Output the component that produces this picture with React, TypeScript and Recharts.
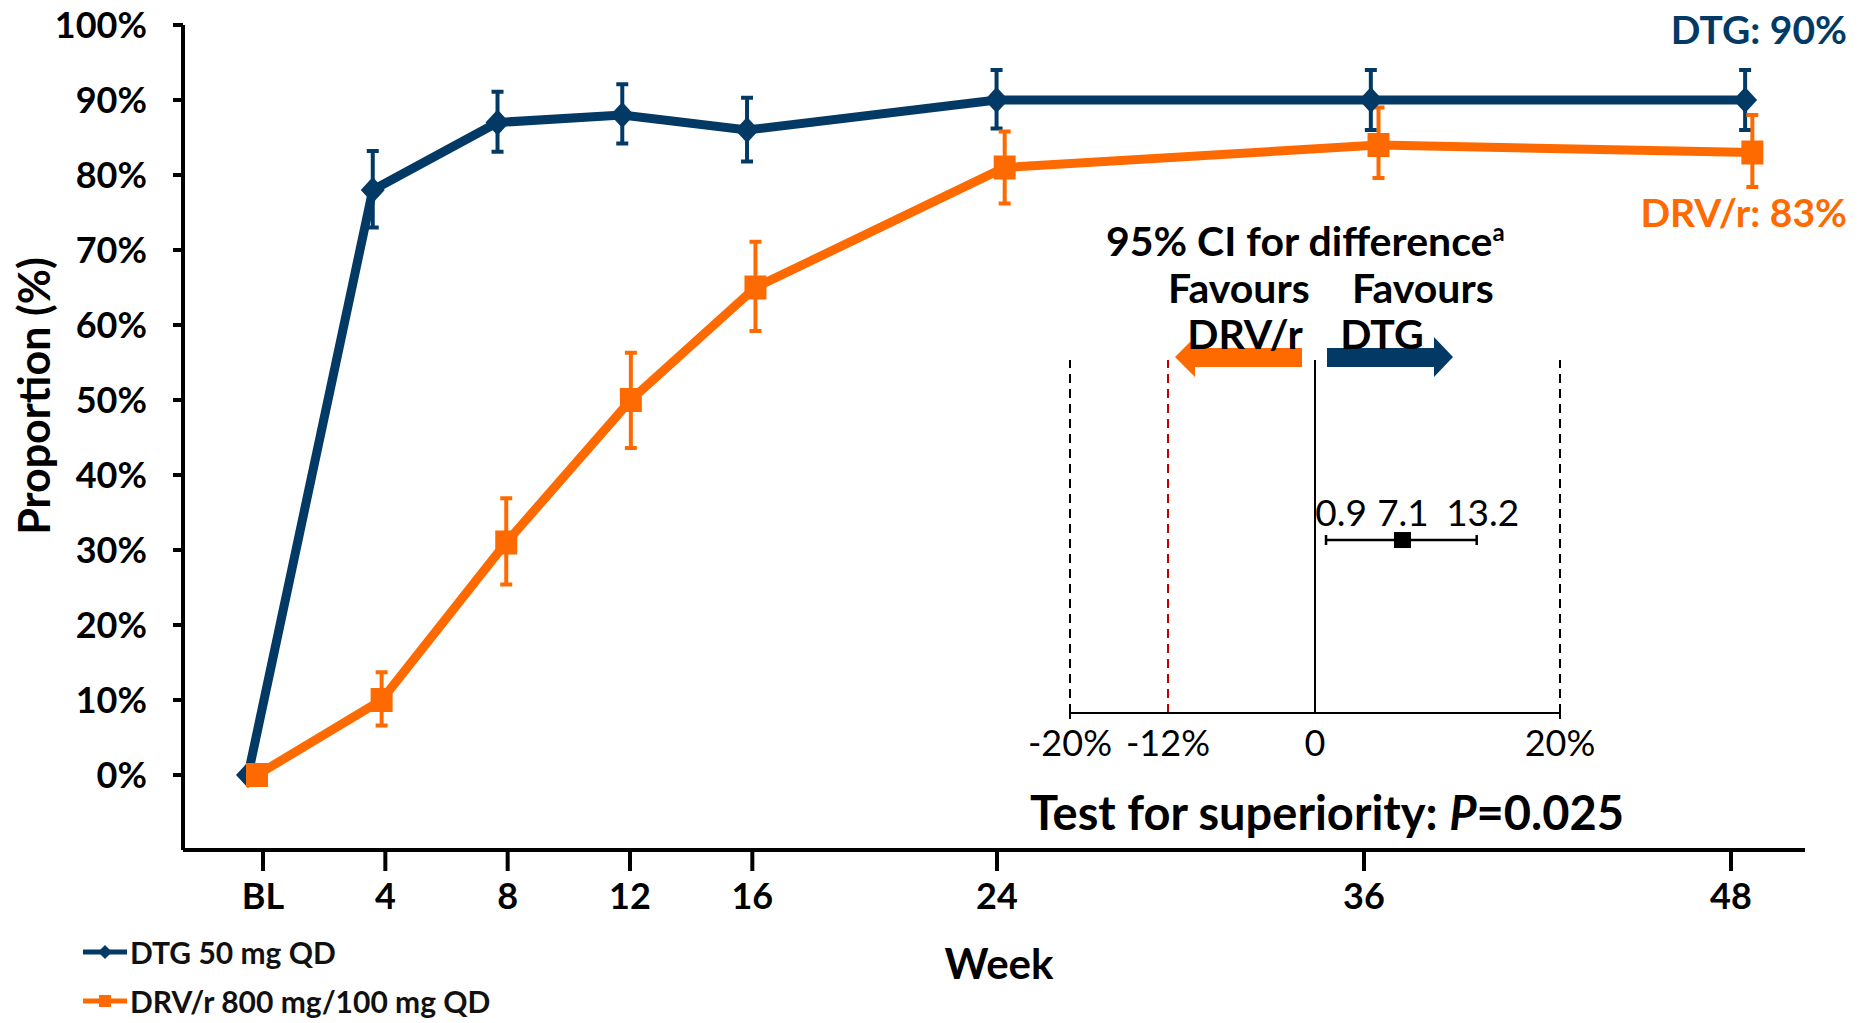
import React from 'react';
import {
  ComposedChart,
  Line,
  Scatter,
  XAxis,
  YAxis,
  ErrorBar,
  ReferenceLine,
  ReferenceDot,
} from 'recharts';

const NAVY = '#033A65';
const ORANGE = '#FF6A00';
const FONT = 'Lato, "Open Sans", sans-serif';

// main chart: proportion by week
const weeks = [0, 4, 8, 12, 16, 24, 36, 48];
const weekLabels = ['BL', '4', '8', '12', '16', '24', '36', '48'];
const yTicks = [0, 10, 20, 30, 40, 50, 60, 70, 80, 90, 100];

const seriesNames = ['DTG 50 mg QD', 'DRV/r 800 mg/100 mg QD'];

const dtgValues = [0, 78, 87, 88, 86, 90, 90, 90];
const dtgLow = [0, 73, 83.1, 84.2, 81.8, 86.2, 86, 86];
const dtgHigh = [0, 83.2, 91.1, 92.1, 90.3, 94, 94, 94];

const drvValues = [0, 10, 31, 50, 65, 81, 84, 83];
const drvLow = [0, 6.6, 25.4, 43.6, 59.2, 76.2, 79.6, 78.4];
const drvHigh = [0, 13.7, 36.9, 56.3, 71.1, 85.8, 89, 88];

// inset: 95% CI for the difference
const diffTicks = [-20, -12, 0, 20];
const diffEstimate = 7.1;
const diffLow = 0.9;
const diffHigh = 13.2;
const marginLine = -12;

const dtgData = weeks.map((w, i) => ({
  week: w,
  value: dtgValues[i],
  err: [dtgValues[i] - dtgLow[i], dtgHigh[i] - dtgValues[i]],
}));
const drvData = weeks.map((w, i) => ({
  week: w,
  value: drvValues[i],
  err: [drvValues[i] - drvLow[i], drvHigh[i] - drvValues[i]],
}));
const ciData = [
  { diff: diffEstimate, row: 0.49, err: [diffEstimate - diffLow, diffHigh - diffEstimate] },
];

const DiamondDot = (props: any) => {
  const { cx, cy, index } = props;
  if (cx == null || cy == null) return null;
  return (
    <path
      key={`d-${index}`}
      d={`M${cx},${cy - 13}L${cx + 12},${cy}L${cx},${cy + 13}L${cx - 12},${cy}Z`}
      fill={NAVY}
    />
  );
};

const SquareDot = (props: any) => {
  const { cx, cy, index } = props;
  if (cx == null || cy == null) return null;
  return <rect key={`s-${index}`} x={cx - 11} y={cy - 12} width={22} height={24} fill={ORANGE} />;
};

const LegendBox = () => (
  <div
    style={{
      position: 'absolute',
      left: 83,
      top: 927,
      fontFamily: FONT,
      fontWeight: 700,
      fontSize: 30,
      color: '#111',
    }}
  >
    {seriesNames.map((name, i) => {
      const isDtg = i === 0;
      const color = isDtg ? NAVY : ORANGE;
      return (
        <div key={name} style={{ display: 'flex', alignItems: 'center', height: 49 }}>
          <svg width={46} height={22}>
            <line x1={0} y1={11} x2={44} y2={11} stroke={color} strokeWidth={5} />
            {isDtg ? (
              <path d="M22,4L29,11L22,18L15,11Z" fill={color} />
            ) : (
              <rect x={16} y={5} width={12} height={12} fill={color} />
            )}
          </svg>
          <span style={{ marginLeft: 1 }}>{name}</span>
        </div>
      );
    })}
  </div>
);

const DiffTick = (props: any) => {
  const { x, y, payload } = props;
  const v = payload.value;
  const label = v === 0 ? '0' : `${v}%`;
  return (
    <g>
      {Math.abs(v) === 20 && <line x1={x} x2={x} y1={y - 21} y2={y - 11} stroke="#000" strokeWidth={2} />}
      <text x={x} y={y} dy="0.71em" textAnchor="middle" fill="#000" fontSize={36} fontFamily={FONT}>
        {label}
      </text>
    </g>
  );
};

const ciLabel = (text: string, dx: number) => (props: any) => (
  <text x={props.cx + dx} y={props.cy - 14} textAnchor="middle" fill="#000" fontSize={37} fontFamily={FONT}>
    {text}
  </text>
);

const Txt = ({ x, y, children, size, color = '#000', anchor = 'center', weight = 700 }: any) => (
  <div
    style={{
      position: 'absolute',
      left: x,
      top: y,
      transform: anchor === 'right' ? 'translate(-100%,-50%)' : anchor === 'left' ? 'translate(0,-50%)' : 'translate(-50%,-50%)',
      fontFamily: FONT,
      fontWeight: weight,
      fontSize: size,
      color,
      whiteSpace: 'nowrap',
      lineHeight: 1,
    }}
  >
    {children}
  </div>
);

export default function App() {
  return (
    <div style={{ position: 'absolute', left: 0, top: 0, width: 1864, height: 1023, background: '#fff' }}>
      <div style={{ position: 'absolute', left: 0, top: 0 }}>
        <ComposedChart width={1864} height={1023} margin={{ top: 25, left: 182, right: 59, bottom: 172 }}>
          <XAxis
            xAxisId="ticks"
            type="number"
            dataKey="week"
            domain={[-2.616, 50.42]}
            allowDataOverflow
            ticks={weeks}
            tickFormatter={(v: number) => weekLabels[weeks.indexOf(v)] ?? String(v)}
            height={1}
            tickSize={21}
            tickMargin={12}
            axisLine={{ stroke: '#000', strokeWidth: 4 }}
            tickLine={{ stroke: '#000', strokeWidth: 4 }}
            tick={{ fill: '#000', fontSize: 36, fontWeight: 700, fontFamily: FONT }}
          />
          <XAxis xAxisId="dtg" orientation="top" height={0} type="number" dataKey="week" domain={[-2.084, 49.92]} allowDataOverflow hide />
          <XAxis xAxisId="drv" orientation="top" height={0} type="number" dataKey="week" domain={[-2.376, 49.69]} allowDataOverflow hide />
          <YAxis
            type="number"
            domain={[-10, 100]}
            allowDataOverflow
            ticks={yTicks}
            tickFormatter={(v: number) => `${v}%`}
            width={1}
            tickSize={10}
            tickMargin={26}
            axisLine={{ stroke: '#000', strokeWidth: 4 }}
            tickLine={{ stroke: '#000', strokeWidth: 4 }}
            tick={{ fill: '#000', fontSize: 36, fontWeight: 700, fontFamily: FONT }}
          />
          <Line
            xAxisId="dtg"
            data={dtgData}
            name={seriesNames[0]}
            dataKey="value"
            type="linear"
            stroke={NAVY}
            strokeWidth={9}
            dot={DiamondDot}
            activeDot={false}
            isAnimationActive={false}
          >
            <ErrorBar dataKey="err" direction="y" width={6} strokeWidth={4} stroke={NAVY} />
          </Line>
          <Line
            xAxisId="drv"
            data={drvData}
            name={seriesNames[1]}
            dataKey="value"
            type="linear"
            stroke={ORANGE}
            strokeWidth={9}
            dot={SquareDot}
            activeDot={false}
            isAnimationActive={false}
          >
            <ErrorBar dataKey="err" direction="y" width={6} strokeWidth={4} stroke={ORANGE} />
          </Line>
        </ComposedChart>
      </div>

      <div style={{ position: 'absolute', left: 0, top: 0 }}>
        <ComposedChart width={1864} height={1023} margin={{ top: 360, left: 1070, right: 304, bottom: 309 }}>
          <XAxis
            type="number"
            dataKey="diff"
            domain={[-20, 20]}
            allowDataOverflow
            ticks={diffTicks}
            height={1}
            tickSize={0}
            tickMargin={17}
            tickLine={false}
            axisLine={{ stroke: '#000', strokeWidth: 2 }}
            tick={DiffTick}
          />
          <YAxis type="number" dataKey="row" domain={[0, 1]} hide />
          <ReferenceLine x={-20} stroke="#000" strokeWidth={2} strokeDasharray="9 6" />
          <ReferenceLine x={marginLine} stroke="#C00000" strokeWidth={2} strokeDasharray="9 6" />
          <ReferenceLine x={20} stroke="#000" strokeWidth={2} strokeDasharray="9 6" />
          <ReferenceLine x={0} stroke="#000" strokeWidth={2} />
          <Scatter
            data={ciData}
            dataKey="row"
            isAnimationActive={false}
            shape={(p: any) => <rect x={p.cx - 8} y={p.cy - 8} width={17} height={16} fill="#000" />}
          >
            <ErrorBar dataKey="err" direction="x" width={5} strokeWidth={2.5} stroke="#000" />
          </Scatter>
          <ReferenceDot x={diffLow} y={0.49} r={0} shape={ciLabel('0.9', 15)} />
          <ReferenceDot x={diffEstimate} y={0.49} r={0} shape={ciLabel('7.1', 1)} />
          <ReferenceDot x={diffHigh} y={0.49} r={0} shape={ciLabel('13.2', 6)} />
        </ComposedChart>
      </div>

      <svg style={{ position: 'absolute', left: 0, top: 0 }} width={1864} height={1023} pointerEvents="none">
        <polygon points="1175,357 1195,337 1195,348 1302,348 1302,367 1195,367 1195,377" fill={ORANGE} />
        <polygon points="1327,348 1434,348 1434,337 1453,357 1434,377 1434,367 1327,367" fill={NAVY} />
      </svg>

      <LegendBox />

      <div
        style={{
          position: 'absolute',
          left: 33,
          top: 396,
          transform: 'translate(-50%,-50%) rotate(-90deg)',
          fontFamily: FONT,
          fontWeight: 700,
          fontSize: 43,
          whiteSpace: 'nowrap',
          lineHeight: 1,
        }}
      >
        Proportion (%)
      </div>
      <Txt x={999} y={963} size={42}>Week</Txt>
      <Txt x={1847} y={29} size={39} color={NAVY} anchor="right">DTG: 90%</Txt>
      <Txt x={1847} y={212} size={39} color={ORANGE} anchor="right">DRV/r: 83%</Txt>
      <Txt x={1106} y={240} size={41} anchor="left">
        95% CI for difference<sup style={{ fontSize: 24, lineHeight: 0 }}>a</sup>
      </Txt>
      <Txt x={1168} y={287} size={41} anchor="left">Favours</Txt>
      <Txt x={1352} y={287} size={41} anchor="left">Favours</Txt>
      <Txt x={1245} y={333} size={41}>DRV/r</Txt>
      <Txt x={1382} y={333} size={41}>DTG</Txt>
      <Txt x={1327} y={812} size={47}>
        Test for superiority: <i>P</i>=0.025
      </Txt>
    </div>
  );
}
